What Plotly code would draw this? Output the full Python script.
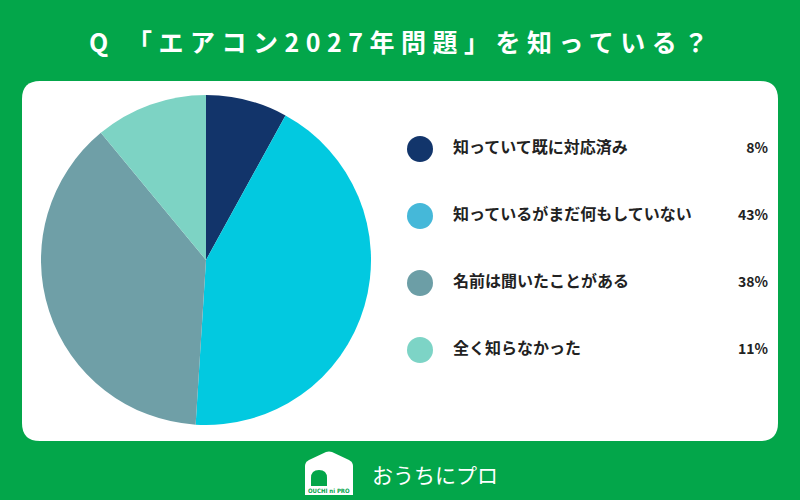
import plotly.graph_objects as go

# ---- data ----
title_text = "Q 「エアコン2027年問題」を知っている？"
categories = ["知っていて既に対応済み", "知っているがまだ何もしていない", "名前は聞いたことがある", "全く知らなかった"]
values = [8, 43, 38, 11]
pie_colors = ["#12346A", "#02C9E0", "#6F9FA7", "#7DD3C4"]
legend_colors = ["#12356B", "#45B8D9", "#6C9EA6", "#7DD4C6"]
brand_text = "おうちにプロ"
brand_small = "OUCHI ni PRO"

GREEN = "#03A64A"
FONT = "Noto Sans CJK JP"

fig = go.Figure()

# pie
fig.add_trace(go.Pie(
    labels=categories, values=values, sort=False, direction="clockwise", rotation=0,
    marker=dict(colors=pie_colors, line=dict(width=0)),
    textinfo="none", hoverinfo="label+percent", showlegend=False,
    domain=dict(x=[(206 - 165) / 800, (206 + 165) / 800], y=[(240 - 165) / 500, (240 + 165) / 500]),
))

# legend markers
fig.add_trace(go.Scatter(
    x=[420] * len(categories), y=categories, mode="markers",
    marker=dict(size=26, color=legend_colors, line=dict(width=0)),
    xaxis="x2", yaxis="y2", showlegend=False, hoverinfo="skip",
))
# legend labels
fig.add_trace(go.Scatter(
    x=[453] * len(categories), y=categories, mode="text",
    text=[f"<b>{c}</b>" for c in categories],
    textposition="middle right", textfont=dict(family=FONT, size=16, color="#222222"),
    xaxis="x2", yaxis="y2", showlegend=False, hoverinfo="skip",
))
# percentages
fig.add_trace(go.Scatter(
    x=[768] * len(categories), y=categories, mode="text",
    text=[f"<b>{v}%</b>" for v in values],
    textposition="middle left", textfont=dict(family=FONT, size=14, color="#222222"),
    xaxis="x2", yaxis="y2", showlegend=False, hoverinfo="skip",
))

# white panel, house logo
shapes = [
    dict(type="path", xref="x", yref="y", layer="below",
         path="M 40,81 L 760,81 Q 778,81 778,99 L 778,423 Q 778,441 760,441 L 40,441 Q 22,441 22,423 L 22,99 Q 22,81 40,81 Z",
         fillcolor="white", line=dict(width=0)),
    dict(type="path", xref="x", yref="y", layer="above",
         path="M 305,495 L 305,466 Q 305,462 309,460 L 326,452 Q 329,451 332,452 L 349,460 Q 353,462 353,466 L 353,495 Z",
         fillcolor="white", line=dict(width=0)),
    dict(type="path", xref="x", yref="y", layer="above",
         path="M 311,486 L 311,478 Q 311,470 319,470 Q 327,470 327,478 L 327,486 Z",
         fillcolor=GREEN, line=dict(width=0)),
]

annotations = [
    dict(text=f"<span style='letter-spacing:6.5px'><b>{title_text}</b></span>", x=402, y=41, xref="x", yref="y",
         showarrow=False, font=dict(family=FONT, size=25, color="white"), xanchor="center", yanchor="middle"),
    dict(text=brand_text, x=370, y=474, xref="x", yref="y", showarrow=False,
         font=dict(family=FONT, size=21, color="white"), xanchor="left", yanchor="middle"),
    dict(text=f"<b>{brand_small}</b>", x=329, y=490, xref="x", yref="y", showarrow=False,
         font=dict(family="DejaVu Sans Condensed", size=6, color=GREEN), xanchor="center", yanchor="middle"),
]

hidden = dict(visible=False, showgrid=False, zeroline=False, fixedrange=True)
fig.update_layout(
    width=800, height=500, margin=dict(l=0, r=0, t=0, b=0),
    paper_bgcolor=GREEN, plot_bgcolor="rgba(0,0,0,0)",
    xaxis=dict(range=[0, 800], domain=[0, 1], **hidden),
    yaxis=dict(range=[500, 0], domain=[0, 1], **hidden),
    xaxis2=dict(range=[0, 800], domain=[0, 1], anchor="y2", **hidden),
    yaxis2=dict(type="category", categoryarray=categories, range=[3.5, -0.5],
                domain=[(500 - 383.5) / 500, (500 - 115.5) / 500], anchor="x2", **hidden),
    shapes=shapes, annotations=annotations,
    font=dict(family=FONT),
)

fig.write_html("out.html", config={"displayModeBar": False},
               post_script="document.body.style.margin='0px';document.body.style.overflow='hidden';")
